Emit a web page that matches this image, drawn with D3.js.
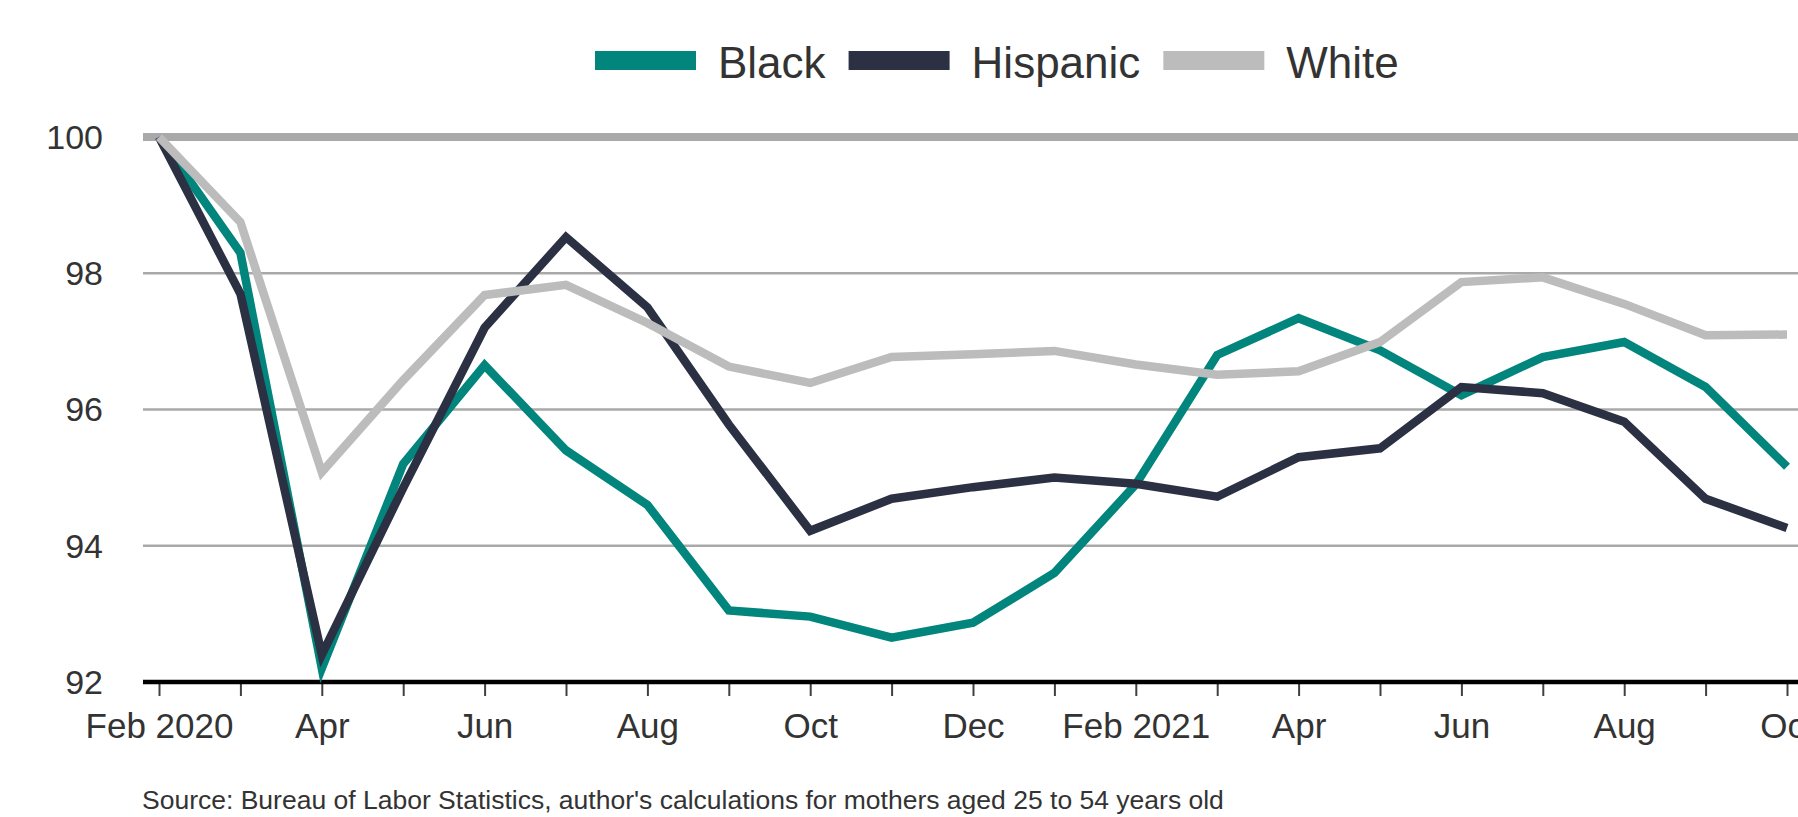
<!DOCTYPE html>
<html>
<head>
<meta charset="utf-8">
<script src="https://cdn.jsdelivr.net/npm/d3@7"></script>
<style>
  html, body { margin: 0; padding: 0; background: #fff; overflow: hidden; }
  text { font-family: "Liberation Sans", Arial, sans-serif; fill: #333; }
</style>
</head>
<body>
<svg id="chart" width="1798" height="817"></svg>
<script>
// ---- data ----
const months = ["2020-02","2020-03","2020-04","2020-05","2020-06","2020-07","2020-08","2020-09","2020-10","2020-11","2020-12",
                "2021-01","2021-02","2021-03","2021-04","2021-05","2021-06","2021-07","2021-08","2021-09","2021-10"];
const monthLabels = ["Feb 2020","","Apr","","Jun","","Aug","","Oct","","Dec",
                     "","Feb 2021","","Apr","","Jun","","Aug","","Oct"];
const black    = [100, 98.3, 92.2, 95.2, 96.65, 95.4, 94.6, 93.05, 92.96, 92.65, 92.87, 93.6, 94.9, 96.8, 97.34, 96.87, 96.21, 96.77, 96.99, 96.33, 95.16];
const hispanic = [100, 97.7, 92.4, 94.85, 97.2, 98.53, 97.5, 95.78, 94.22, 94.69, 94.86, 95.0, 94.91, 94.72, 95.3, 95.43, 96.33, 96.24, 95.82, 94.69, 94.26];
const white    = [100, 98.75, 95.08, 96.43, 97.68, 97.83, 97.27, 96.63, 96.39, 96.77, 96.81, 96.86, 96.66, 96.51, 96.56, 96.99, 97.87, 97.94, 97.55, 97.09, 97.1];
const seriesNames = ["Black", "Hispanic", "White"];
const yTicks = [92, 94, 96, 98, 100];
const sourceNote = "Source: Bureau of Labor Statistics, author's calculations for mothers aged 25 to 54 years old";

// ---- styles ----
const colors = {"Black": "#02857c", "Hispanic": "#2b3043", "White": "#bbbcbb"};
const W = 1798, H = 817;
const svg = d3.select("#chart");
svg.append("rect").attr("width", W).attr("height", H).attr("fill", "#fff");

const x = d3.scalePoint().domain(months).range([159, 1787]);
const y = d3.scaleLinear().domain([92, 100]).range([682, 137]);
const plotLeft = 143, plotRight = W;

// gridlines
svg.append("g").selectAll("line").data(yTicks.filter(t => t !== 92)).join("line")
  .attr("x1", plotLeft).attr("x2", plotRight)
  .attr("y1", d => y(d)).attr("y2", d => y(d))
  .attr("stroke", "#a9a9a9")
  .attr("stroke-width", d => d === 100 ? 8 : 2.4);

// y labels
svg.append("g").selectAll("text").data(yTicks).join("text")
  .attr("x", 103).attr("y", d => y(d))
  .attr("dy", "0.35em")
  .attr("text-anchor", "end")
  .style("font-size", "34px")
  .text(d => d);

// x axis
const xAxis = d3.axisBottom(x)
  .tickSize(14)
  .tickPadding(17)
  .tickFormat((d, i) => monthLabels[i]);
const gx = svg.append("g").attr("transform", `translate(0,${y(92)})`).call(xAxis);
gx.select(".domain").remove();
gx.selectAll(".tick line").attr("stroke", "#404040").attr("stroke-width", 2);
gx.selectAll(".tick text")
  .style("font-size", "35px")
  .style("font-family", "'Liberation Sans', Arial, sans-serif")
  .attr("fill", "#333");
svg.append("line")
  .attr("x1", plotLeft).attr("x2", plotRight)
  .attr("y1", y(92)).attr("y2", y(92))
  .attr("stroke", "#000").attr("stroke-width", 4.5);

// lines
const seriesData = {"Black": black, "Hispanic": hispanic, "White": white};
const line = d3.line().x((d, i) => x(months[i])).y(d => y(d));
seriesNames.forEach(name => {
  svg.append("path")
    .datum(seriesData[name])
    .attr("d", line)
    .attr("fill", "none")
    .attr("stroke", colors[name])
    .attr("stroke-width", 8.5)
    .attr("stroke-linejoin", "miter")
    .attr("stroke-linecap", "butt");
});

// legend
const lg = svg.append("g");
let lx = 595;
seriesNames.forEach(name => {
  lg.append("rect").attr("x", lx).attr("y", 51).attr("width", 101).attr("height", 19).attr("fill", colors[name]);
  const t = lg.append("text").attr("x", lx + 123).attr("y", 78)
    .style("font-size", "44px").text(name);
  const w = t.node().getComputedTextLength();
  lx = lx + 123 + w + 23;
});

// source
svg.append("text").attr("x", 142).attr("y", 809)
  .style("font-size", "26.5px")
  .text(sourceNote);
</script>
</body>
</html>
